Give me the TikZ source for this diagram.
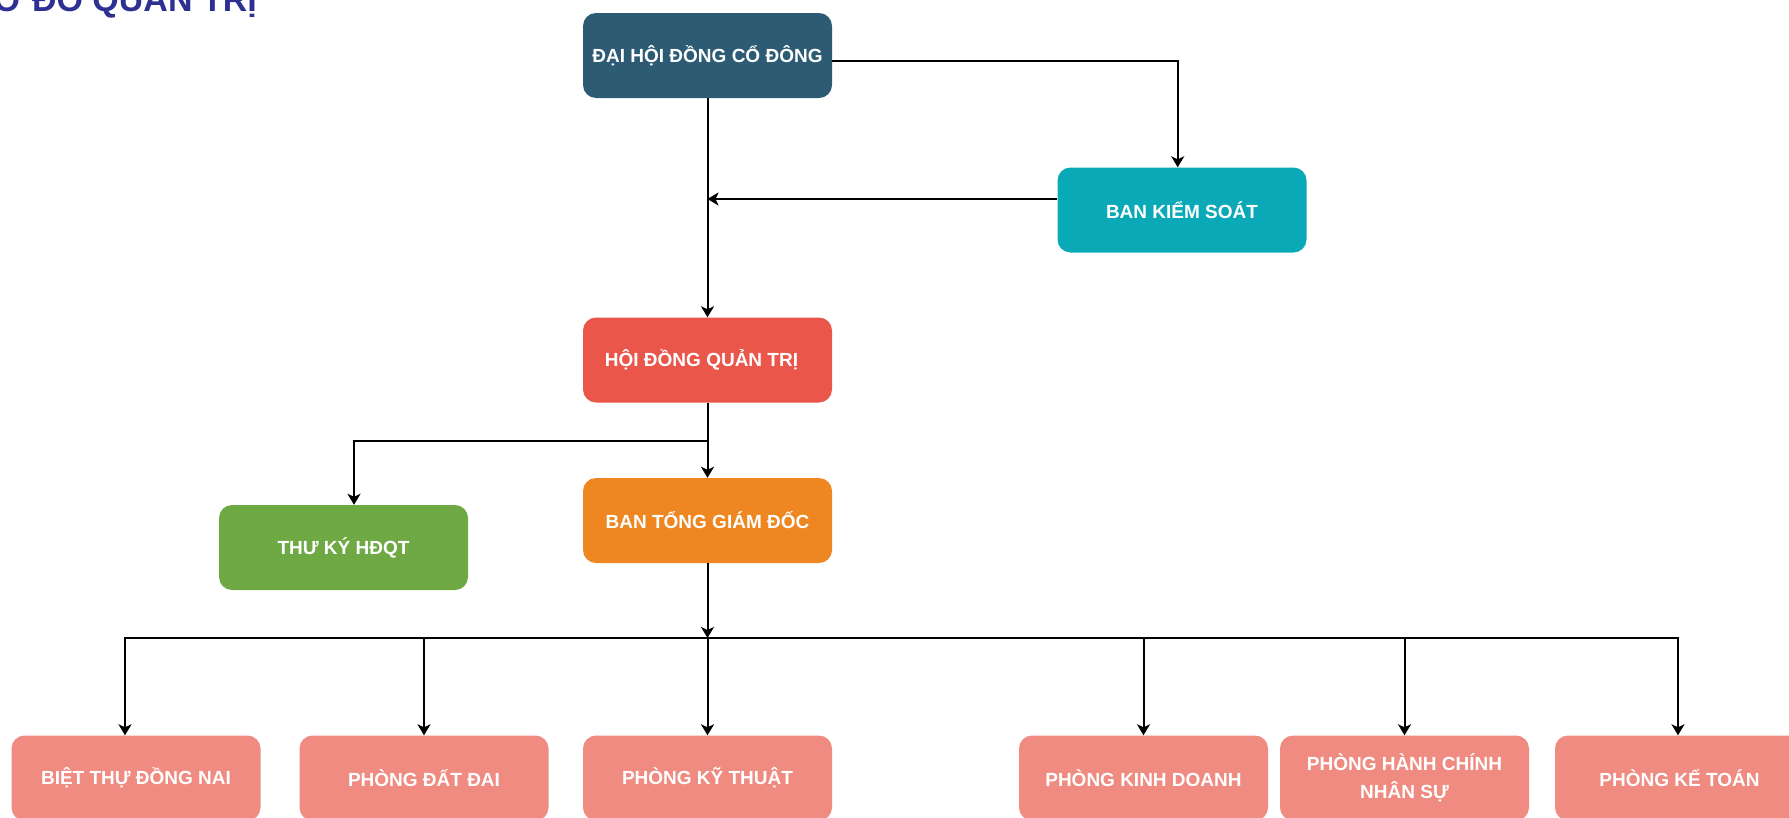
\documentclass[tikz,border=0pt]{standalone}
\usepackage{fontspec}
\setmainfont{Liberation Sans}
\usetikzlibrary{arrows.meta}
\definecolor{cdh}{HTML}{2E5B74}
\definecolor{cbks}{HTML}{0AA9B8}
\definecolor{chd}{HTML}{EB564B}
\definecolor{ctk}{HTML}{6EA944}
\definecolor{ctgd}{HTML}{EE8622}
\definecolor{cpb}{HTML}{F08B81}
\definecolor{ctitle}{HTML}{2E3192}
\tikzset{
  box/.style={rectangle, rounded corners=13pt, minimum width=249pt, minimum height=85pt,
    inner sep=0pt, text=white, align=center, font=\bfseries\fontsize{19}{28}\selectfont},
  pban/.style={box, fill=cpb},
  arr/.style={draw=black, line width=2pt, -{Stealth[length=11pt,width=13pt,inset=3pt]}},
  ln/.style={draw=black, line width=2pt}
}
\begin{document}
\begin{tikzpicture}[x=1pt,y=-1pt]
\useasboundingbox (0,0) rectangle (1789,817);
\node[anchor=base east, inner sep=0pt, text=ctitle, font=\bfseries\fontsize{34}{40}\selectfont] (title) at (257,11) {SƠ ĐỒ QUẢN TRỊ};
\node[box, fill=cdh] (dh) at (707.5,55.5) {ĐẠI HỘI ĐỒNG CỔ ĐÔNG};
\node[box, fill=cbks] (bks) at (1182,210) {BAN KIỂM SOÁT};
\node[box, fill=chd] (hdqt) at (707.5,360) {HỘI ĐỒNG QUẢN TRỊ\hspace*{12pt}};
\node[box, fill=ctk] (tk) at (343.5,547.5) {THƯ KÝ HĐQT};
\node[box, fill=ctgd] (tgd) at (707.5,520.5) {BAN TỔNG GIÁM ĐỐC};
\node[pban] (bt) at (136,778) {BIỆT THỰ ĐỒNG NAI};
\node[pban] (dd) at (424,778) {PHÒNG ĐẤT ĐAI};
\node[pban] (kt) at (707.5,778) {PHÒNG KỸ THUẬT};
\node[pban] (kd) at (1143.5,778) {PHÒNG KINH DOANH};
\node[pban] (hc) at (1404.5,778) {PHÒNG HÀNH CHÍNH\\NHÂN SỰ};
\node[pban] (kto) at (1679.5,778) {PHÒNG KẾ TOÁN};
% top connectors
\draw[arr] ([yshift=-5.5pt]dh.east) -| ([xshift=-4.3pt]bks.north);
\coordinate (bw) at ([yshift=11pt]bks.west);
\draw[arr] (bw) -- (bw -| dh.south);
\draw[arr] (dh.south) -- (hdqt.north);
\coordinate (br) at (707.5,441);
\draw[ln] (hdqt.south) -- (br);
\draw[arr] (br) -| ([xshift=10.5pt]tk.north);
\draw[arr] (br) -- (tgd.north);
% bus
\coordinate (bus) at (707.5,638);
\draw[arr] (tgd.south) -- (bus);
\draw[arr] (bus) -| ([xshift=-11pt]bt.north);
\draw[arr] (bus) -| (dd.north);
\draw[arr] (bus) -- (kt.north);
\draw[arr] (bus) -| (kd.north);
\draw[arr] (bus) -| (hc.north);
\draw[arr] (bus) -| ([xshift=-1.5pt]kto.north);
\end{tikzpicture}
\end{document}
